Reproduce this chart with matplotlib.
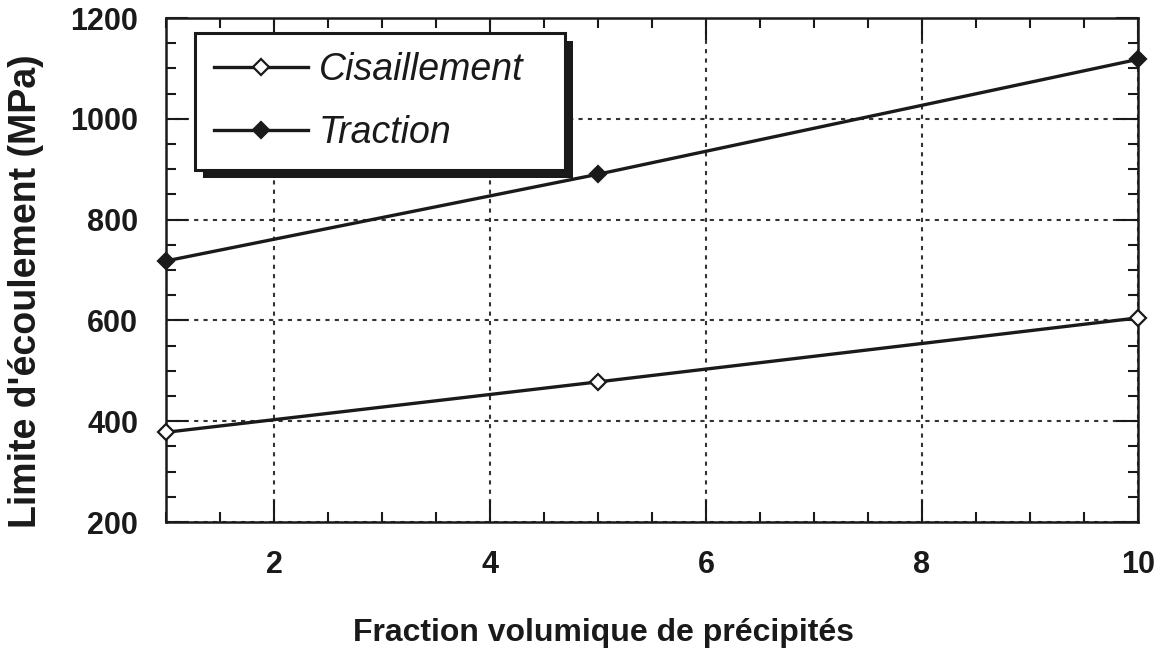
import matplotlib
matplotlib.use("Agg")
import matplotlib.pyplot as plt
from matplotlib.patches import Rectangle
from matplotlib.transforms import IdentityTransform
from matplotlib.ticker import MultipleLocator

plt.rcParams["font.family"] = ["Liberation Sans", "DejaVu Sans"]

# Volume fraction of precipitates and yield strength (MPa)
fraction = [1, 5, 10]
cisaillement = [378, 478, 605]
traction = [718, 890, 1118]

x_ticks = [2, 4, 6, 8, 10]
y_ticks = [200, 400, 600, 800, 1000, 1200]

ink = "#1a1a1a"

fig = plt.figure(figsize=(11.59, 6.5), dpi=100)
ax = fig.add_axes([166 / 1159, 1 - 522 / 650, 972 / 1159, 504 / 650])

ax.plot(fraction, cisaillement, color=ink, lw=2.4, marker="D", ms=8.5,
        mfc="white", mec=ink, mew=1.6, label="Cisaillement", clip_on=False, zorder=3)
ax.plot(fraction, traction, color=ink, lw=2.4, marker="D", ms=8.5,
        mfc=ink, mec=ink, mew=1.6, label="Traction", clip_on=False, zorder=3)

ax.set_xlim(1, 10)
ax.set_ylim(200, 1200)
ax.set_xticks(x_ticks)
ax.set_yticks(y_ticks)
ax.xaxis.set_minor_locator(MultipleLocator(0.5))
ax.yaxis.set_minor_locator(MultipleLocator(50))

ax.grid(True, which="major", color="#333333", lw=1.5, ls=(0, (2, 2.5)))
ax.tick_params(which="both", direction="in", top=True, right=True,
               color=ink, width=1.5)
ax.tick_params(which="major", length=16)
ax.tick_params(which="minor", length=7)
ax.tick_params(axis="y", which="major", pad=20)
ax.tick_params(axis="x", which="major", pad=20)
for lab in ax.get_xticklabels() + ax.get_yticklabels():
    lab.set_fontsize(22)
    lab.set_fontweight("bold")
    lab.set_color(ink)
for sp in ax.spines.values():
    sp.set_linewidth(1.8)
    sp.set_color(ink)

ax.set_xlabel("Fraction volumique de précipités", fontsize=23,
              fontweight="bold", color=ink, va="baseline")
ax.xaxis.set_label_coords(0.45, -0.236)
ax.set_ylabel("Limite d'écoulement (MPa)", fontsize=27,
              fontweight="bold", color=ink, va="center")
ax.yaxis.set_label_coords(-0.144, 0.458)

leg = ax.legend(loc="upper left",
                bbox_to_anchor=(29 / 972, 489 / 504, 370 / 972, 0.0),
                mode="expand", borderaxespad=0, fancybox=False, framealpha=1,
                edgecolor=ink, handlelength=2.5, handletextpad=0.3,
                borderpad=0.5, labelspacing=0.72,
                prop={"size": 27, "style": "italic"})
leg.get_frame().set_linewidth(2.2)
leg.set_zorder(6)
for t in leg.get_texts():
    t.set_color(ink)

# Solid drop shadow under the legend box
fig.canvas.draw()
bb = leg.get_window_extent()
shadow = Rectangle((bb.x0 + 8, bb.y0 - 8), bb.width, bb.height,
                   transform=IdentityTransform(), facecolor=ink,
                   edgecolor="none", zorder=5.5, clip_on=False)
ax.add_patch(shadow)

fig.savefig("out.png", dpi=100, facecolor="white")
